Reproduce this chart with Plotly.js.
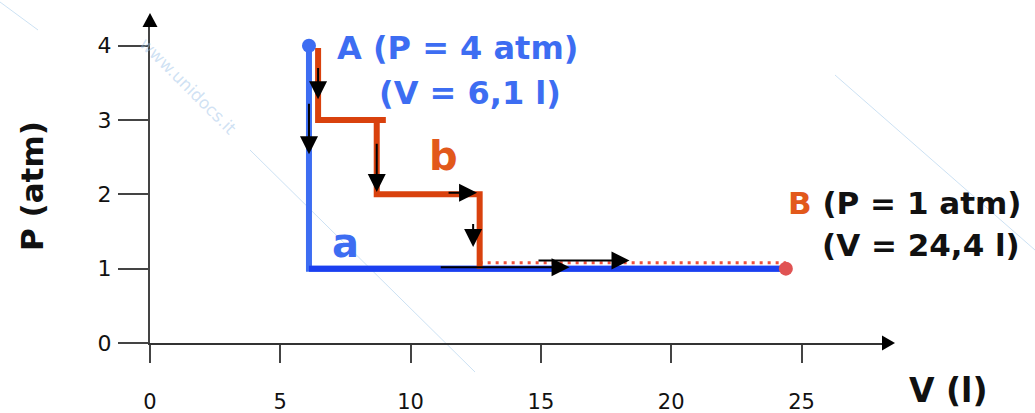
<!DOCTYPE html>
<html>
<head>
<meta charset="utf-8">
<script src="https://cdn.plot.ly/plotly-3.0.1.min.js"></script>
<style>
  html, body { margin: 0; padding: 0; background: #ffffff; }
  #chart { width: 1035px; height: 413px; }
</style>
</head>
<body>
<div id="chart"></div>
<script>
// Path a: A -> (V_A, 1 atm) -> B
const pathAV = [6.1, 6.1, 24.4];
const pathAP = [4, 1, 1];

// Path b: staircase from A down to 1 atm (null breaks the T-joint)
const pathBV = [6.45, 6.45, 9.05, null, 8.7, 8.7, 12.65, 12.65];
const pathBP = [3.97, 3, 3, null, 3, 2, 2, 1];

// Dotted continuation of path b at 1 atm up to B
const dottedV = [12.65, 24.4];
const dottedP = [1.08, 1.08];

// States A and B
const stateAV = [6.1], stateAP = [4];
const stateBV = [24.4], stateBP = [1];

// Direction arrows: tail -> head
const arrowTailV = [6.45, 6.1, 8.7, 11.4, 12.4, 11.1, 14.85];
const arrowTailP = [3.72, 3.24, 2.7, 2.02, 1.62, 1.02, 1.11];
const arrowHeadV = [6.45, 6.1, 8.7, 12.55, 12.4, 16.1, 18.4];
const arrowHeadP = [3.28, 2.54, 2.03, 2.02, 1.29, 1.02, 1.11];

// Axis ticks
const xTicks = [0, 5, 10, 15, 20, 25];
const xTickText = ['0', '5', '10', '15', '20', '25'];
const yTicks = [0, 1, 2, 3, 4];
const yTickText = ['0', '1', '2', '3', '4'];

const FONT = 'DejaVu Sans, Verdana, sans-serif';
const BLUE = '#3d6df2';
const BLUE_DARK = '#1b3ff0';
const RED = '#d9410d';
const ORANGE = '#e2591b';

// plot-area geometry in pixels (used for paper-referenced decorations)
const M = { l: 150, r: 151, t: 25, b: 70 };
const W = 1035 - M.l - M.r, H = 413 - M.t - M.b;
const px2paperX = px => (px - M.l) / W;
const py2paperY = py => (M.t + H - py) / H;

const traces = [
  { x: pathAV, y: pathAP, mode: 'lines', line: { color: BLUE, width: 6 }, hoverinfo: 'skip', cliponaxis: false },
  { x: pathAV.slice(1), y: pathAP.slice(1), mode: 'lines', line: { color: BLUE_DARK, width: 6 }, hoverinfo: 'skip', cliponaxis: false },
  { x: dottedV, y: dottedP, mode: 'lines', line: { color: '#f0503c', width: 3, dash: '3px,5px' }, hoverinfo: 'skip' },
  { x: pathBV, y: pathBP, mode: 'lines', line: { color: RED, width: 6 }, connectgaps: false, hoverinfo: 'skip' },
  { x: stateAV, y: stateAP, mode: 'markers', marker: { color: BLUE, size: 14 }, cliponaxis: false, hoverinfo: 'skip' },
  { x: stateBV, y: stateBP, mode: 'markers', marker: { color: '#e05353', size: 14 }, cliponaxis: false, hoverinfo: 'skip' }
];

const annotations = [];
for (let i = 0; i < arrowHeadV.length; i++) {
  annotations.push({
    x: arrowHeadV[i], y: arrowHeadP[i], xref: 'x', yref: 'y',
    ax: arrowTailV[i], ay: arrowTailP[i], axref: 'x', ayref: 'y',
    text: '', showarrow: true, arrowhead: 2, arrowsize: 1.8, arrowwidth: 2,
    arrowcolor: '#000000', standoff: 0, startstandoff: 0
  });
}

const bold = (size, color) => ({ family: FONT, size: size, color: color, weight: 'bold' });

annotations.push(
  { text: 'A (P = 4 atm)', x: px2paperX(335), y: py2paperY(48), xref: 'paper', yref: 'paper',
    xanchor: 'left', yanchor: 'middle', showarrow: false, font: bold(32, BLUE) },
  { text: '(V = 6,1 l)', x: px2paperX(377), y: py2paperY(93), xref: 'paper', yref: 'paper',
    xanchor: 'left', yanchor: 'middle', showarrow: false, font: bold(32, BLUE) },
  { text: '<span style="color:' + ORANGE + '">B</span> (P = 1 atm)', x: px2paperX(786), y: py2paperY(203),
    xref: 'paper', yref: 'paper', xanchor: 'left', yanchor: 'middle', showarrow: false, font: bold(31, '#111111') },
  { text: '(V = 24,4 l)', x: px2paperX(820), y: py2paperY(245), xref: 'paper', yref: 'paper',
    xanchor: 'left', yanchor: 'middle', showarrow: false, font: bold(31, '#111111') },
  { text: 'a', x: px2paperX(345), y: py2paperY(243), xref: 'paper', yref: 'paper',
    xanchor: 'center', yanchor: 'middle', showarrow: false, font: bold(40, BLUE) },
  { text: 'b', x: px2paperX(443), y: py2paperY(156), xref: 'paper', yref: 'paper',
    xanchor: 'center', yanchor: 'middle', showarrow: false, font: bold(40, ORANGE) },
  { text: 'P (atm)', x: px2paperX(32), y: py2paperY(186), xref: 'paper', yref: 'paper',
    xanchor: 'center', yanchor: 'middle', textangle: -90, showarrow: false, font: bold(31, '#111111') },
  { text: 'V (l)', x: px2paperX(948), y: py2paperY(390), xref: 'paper', yref: 'paper',
    xanchor: 'center', yanchor: 'middle', showarrow: false, font: bold(33, '#111111') },
  // faint site watermark
  { text: 'www.unidocs.it', x: px2paperX(188), y: py2paperY(86), xref: 'paper', yref: 'paper',
    xanchor: 'center', yanchor: 'middle', textangle: 45, showarrow: false,
    font: { family: FONT, size: 17, color: 'rgba(150,190,230,0.45)' } }
);

const wmLine = (x0, y0, x1, y1) => ({
  type: 'line', xref: 'paper', yref: 'paper', layer: 'below',
  x0: px2paperX(x0), y0: py2paperY(y0), x1: px2paperX(x1), y1: py2paperY(y1),
  line: { color: 'rgba(170,205,235,0.6)', width: 1 }
});

const shapes = [
  wmLine(250, 150, 475, 372),
  wmLine(835, 75, 1035, 250),
  wmLine(0, 2, 38, 30),
  // arrowheads on the axes
  { type: 'path', xref: 'paper', yref: 'paper', xsizemode: 'pixel', ysizemode: 'pixel',
    xanchor: 1, yanchor: 0, path: 'M -2,-7.5 L 11,0 L -2,7.5 Z',
    fillcolor: '#000000', line: { width: 0 } },
  { type: 'path', xref: 'paper', yref: 'paper', xsizemode: 'pixel', ysizemode: 'pixel',
    xanchor: 0, yanchor: 1, path: 'M -7.5,-2 L 0,12 L 7.5,-2 Z',
    fillcolor: '#000000', line: { width: 0 } }
];

const layout = {
  width: 1035, height: 413,
  margin: M,
  paper_bgcolor: '#ffffff', plot_bgcolor: '#ffffff',
  showlegend: false,
  xaxis: {
    range: [0, W / 26.06], showgrid: false, zeroline: false,
    showline: true, linecolor: '#333333', linewidth: 2,
    ticks: 'outside', ticklen: 18, tickwidth: 2, tickcolor: '#444444',
    tickvals: xTicks, ticktext: xTickText, ticklabelstandoff: 21,
    tickfont: { family: FONT, size: 21, color: '#111111' }
  },
  yaxis: {
    range: [0, H / 74.33], showgrid: false, zeroline: false,
    showline: true, linecolor: '#444444', linewidth: 2,
    ticks: 'outside', ticklen: 30, tickwidth: 2, tickcolor: '#444444',
    tickvals: yTicks, ticktext: yTickText, ticklabelstandoff: 2,
    tickfont: { family: FONT, size: 22, color: '#111111' }
  },
  annotations: annotations,
  shapes: shapes
};

Plotly.newPlot('chart', traces, layout, { staticPlot: true, displayModeBar: false });
</script>
</body>
</html>
